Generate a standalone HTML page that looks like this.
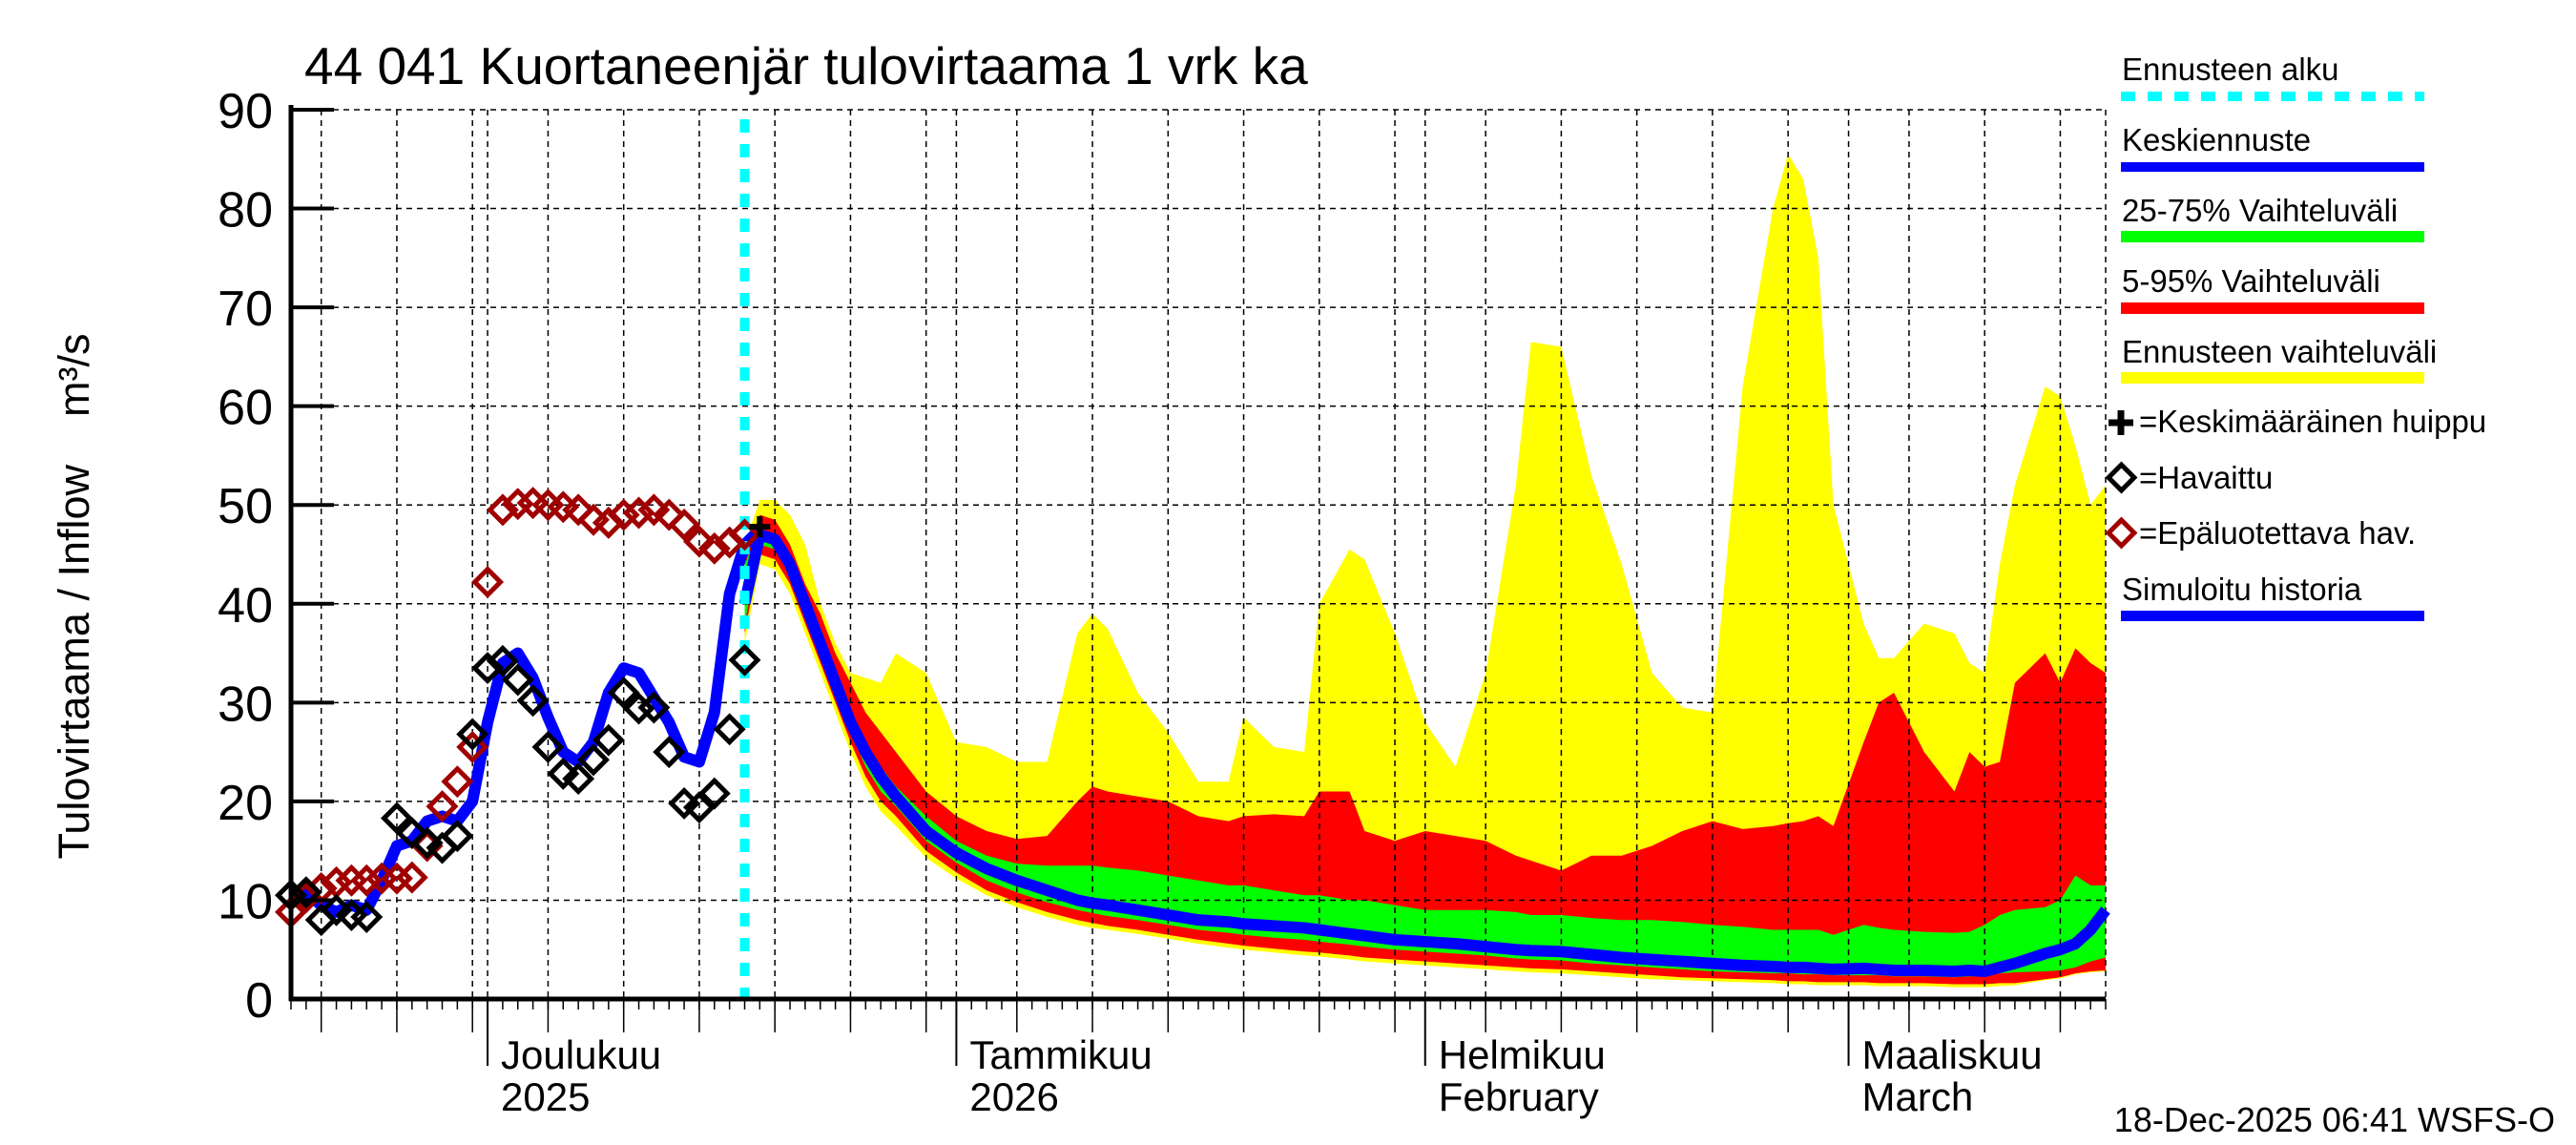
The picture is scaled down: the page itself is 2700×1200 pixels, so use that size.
<!DOCTYPE html>
<html><head><meta charset="utf-8"><style>
html,body{margin:0;padding:0;background:#fff;}
svg{display:block;font-family:"Liberation Sans",sans-serif;}
</style></head><body>
<svg id="chart" width="2700" height="1200" viewBox="0 0 2700 1200" xmlns="http://www.w3.org/2000/svg">
<rect width="2700" height="1200" fill="#fff"/>
<g id="bands"></g>
<g id="grid"></g>
<g id="series"></g>
<g id="axes"></g>
<text x="319" y="88" font-size="55">44 041 Kuortaneenjär tulovirtaama 1 vrk ka</text>
<text transform="translate(93,625) rotate(-90)" text-anchor="middle" font-size="45">Tulovirtaama / Inflow &#160;&#160;&#160;m³/s</text>
<text x="2678" y="1186" text-anchor="end" font-size="36">18-Dec-2025 06:41 WSFS-O</text>
<g id="legend" font-size="33">
<text x="2224" y="84">Ennusteen alku</text>
<line x1="2223" y1="101" x2="2541" y2="101" stroke="#00ffff" stroke-width="10" stroke-dasharray="15,13"/>
<text x="2224" y="158">Keskiennuste</text>
<rect x="2223" y="170" width="318" height="10" fill="#0000ff"/>
<text x="2224" y="232">25-75% Vaihteluväli</text>
<rect x="2223" y="242" width="318" height="12" fill="#00ff00"/>
<text x="2224" y="306">5-95% Vaihteluväli</text>
<rect x="2223" y="317" width="318" height="12" fill="#ff0000"/>
<text x="2224" y="380">Ennusteen vaihteluväli</text>
<rect x="2223" y="390" width="318" height="12" fill="#ffff00"/>
<path d="M2210,443 h26 M2223,430 v26" stroke="#000" stroke-width="7"/>
<text x="2242" y="453">=Keskimääräinen huippu</text>
<rect x="2214" y="491" width="19" height="19" fill="none" stroke="#000" stroke-width="5" transform="rotate(45 2223.5 500.5)"/>
<text x="2242" y="512">=Havaittu</text>
<rect x="2214" y="549" width="19" height="19" fill="none" stroke="#a00000" stroke-width="5" transform="rotate(45 2223.5 558.5)"/>
<text x="2242" y="570">=Epäluotettava hav.</text>
<text x="2224" y="629">Simuloitu historia</text>
<rect x="2223" y="640" width="318" height="11" fill="#0000ff"/>
</g>
</svg>
<script>
const yTicks = [0,10,20,30,40,50,60,70,80,90];
const monthLabels = [["Joulukuu","2025"],["Tammikuu","2026"],["Helmikuu","February"],["Maaliskuu","March"]];
const monthDays = [13,44,75,103];
const forecastStartDay = 30;
const peakDay = 31;
const peakValue = 47.8;
const fDays = [30,31,32,33,34,35,36,37,38,39,40,42,44,46,48,50,52,53,54,56,58,60,62,63,65,67,68,70,71,73,75,77,79,81,82,84,86,88,90,92,94,96,98,99,100,101,102,104,105,106,108,110,111,112,113,114,116,117,118,119,120];
const yMax = [46,50.5,50.5,49,46,40,36,33,32.5,32,35,33,26,25.5,24,24,37,39,37.5,31,27,22,22,28.5,25.5,25,40,45.5,44.5,37,28,23.5,33,52,66.5,66,53,44,33,29.5,29,62,80,85.5,83,75,50,38,34.5,34.5,38,37,34,33,44,52,62,61,56,50,52];
const p95 = [45,49,48.5,46,42,39,35,32,29,27,25,21,18.5,17,16.2,16.5,20,21.5,21,20.5,20,18.5,18,18.5,18.7,18.5,21,21,17,16,17,16.5,16,14.5,14,13,14.5,14.5,15.5,17,18,17.2,17.5,17.8,18,18.5,17.5,26,30,31,25,21,25,23.5,24,32,35,32,35.5,34,33];
const p75 = [44,47.5,47,45,41,37,33,29,26,23.5,21.5,18.5,16,14.5,13.7,13.5,13.5,13.5,13.3,13,12.5,12,11.5,11.5,11,10.5,10.5,10,10,9.5,9,9,9,8.8,8.5,8.5,8.2,8,8,7.8,7.5,7.3,7,7,7,7,6.5,7.5,7.2,7,6.8,6.7,6.8,7.5,8.5,9,9.3,10,12.5,11.5,11.5];
const median = [40,47,46.5,44,40,36,32,28,25,22.5,20.5,17,14.8,13.2,12,11,10,9.7,9.5,9,8.5,8,7.8,7.6,7.4,7.2,7,6.6,6.4,6,5.8,5.6,5.3,5,4.9,4.8,4.5,4.2,4,3.8,3.6,3.4,3.3,3.2,3.2,3.1,3.0,3.1,3.0,2.9,2.9,2.8,2.9,2.8,3.2,3.6,4.6,5.0,5.6,7,9];
const p25 = [38,46,45.5,43,39,35,31,27,23.5,21,19.5,16,13.8,12,10.8,9.8,9,8.7,8.4,8,7.5,7,6.7,6.5,6.2,6,5.8,5.5,5.3,5,4.8,4.6,4.4,4.1,4,3.9,3.6,3.4,3.2,3,2.8,2.7,2.6,2.6,2.5,2.5,2.4,2.4,2.4,2.3,2.3,2.2,2.3,2.3,2.6,2.7,2.8,2.9,3.2,3.8,4.2];
const p5 = [37,45,44.5,42,38,34,30,26,22.5,20,18.5,15,12.8,11,9.8,8.8,8,7.7,7.4,7,6.5,6,5.6,5.4,5.1,4.8,4.7,4.4,4.2,4,3.8,3.6,3.4,3.2,3.1,3,2.8,2.6,2.4,2.2,2.1,2,1.9,1.8,1.8,1.7,1.7,1.7,1.6,1.6,1.6,1.5,1.5,1.5,1.6,1.6,2,2.2,2.6,2.8,2.9];
const yMin = [36,44,43.5,41,37,33,29,25,21.5,19,17.5,14.3,12.2,10.5,9.3,8.3,7.5,7.2,7,6.6,6.1,5.6,5.2,5,4.7,4.4,4.3,4,3.8,3.6,3.4,3.2,3,2.8,2.7,2.6,2.4,2.2,2,1.9,1.8,1.7,1.6,1.5,1.5,1.4,1.4,1.4,1.3,1.3,1.3,1.2,1.2,1.2,1.3,1.4,1.9,2.1,2.5,2.7,2.8];
const simDays = [0,1,2,3,4,5,6,7,8,9,10,11,12,13,14,15,16,17,18,19,20,21,22,23,24,25,26,27,28,29,30,31];
const simVals = [10.5,10.8,9.5,8.8,9.5,9,12,15.5,16,18,18.5,18,20,28,34,35,32.5,28.5,25,24,26,31,33.5,33,30.5,28,24.5,24,29,41,46,47.5];
const obsDays = [0,1,2,3,4,5,7,8,9,10,11,12,13,14,15,16,17,18,19,20,21,22,23,24,25,26,27,28,29,30];
const obsVals = [10.5,10.8,8,9,8.5,8.3,18.3,16.8,15.8,15.3,16.5,26.8,33.5,34.2,32.3,30.2,25.5,22.8,22.3,24.2,26.2,31,29.4,29.5,25,19.8,19.4,20.8,27.3,34.3];
const unrelDays = [0,1,2,3,4,5,6,7,8,9,10,11,12,13,14,15,16,17,18,19,20,21,22,23,24,25,26,27,28,29,30];
const unrelVals = [8.8,10.3,11.2,11.8,12,12,12.2,12.2,12.3,15.5,19.5,22,25.5,42.2,49.5,50.1,50.2,50,49.8,49.5,48.5,48.2,49,49.2,49.5,49,48,46.3,45.6,46.2,47];

const X0=305, X1=2207, Y0=1047, Y90=115, DAYS=120;
function xs(d){return X0+(X1-X0)*d/DAYS;}
function ys(v){return Y0-(Y0-Y90)*v/90;}
const NS="http://www.w3.org/2000/svg";
function mk(tag,attrs,parent){const e=document.createElementNS(NS,tag);for(const k in attrs)e.setAttribute(k,attrs[k]);parent.appendChild(e);return e;}
const bands=document.getElementById('bands'),grid=document.getElementById('grid'),series=document.getElementById('series'),axes=document.getElementById('axes');

function band(lo,hi,color,name){
  let d='M'+fDays.map((t,i)=>xs(t).toFixed(1)+','+ys(hi[i]).toFixed(1)).join(' L');
  for(let i=fDays.length-1;i>=0;i--)d+=' L'+xs(fDays[i]).toFixed(1)+','+ys(lo[i]).toFixed(1);
  const p=mk('path',{d:d+'Z',fill:color},bands);
  
  
}
band(yMin,yMax,'#ffff00','band-full-range');
band(p5,p95,'#ff0000','band-p5-p95');
band(p25,p75,'#00ff00','band-p25-p75');

for(const v of yTicks){
  if(v===0)continue;
  const l=mk('line',{x1:X0,x2:X1,y1:ys(v),y2:ys(v),stroke:'#000','stroke-width':1.5,'stroke-dasharray':'6,5'},grid);
  
  
}
const gridDays=[];
for(let d=2;d<=13;d+=5)gridDays.push(d);
for(const m of [[13,31],[44,31],[75,28],[103,31]]){for(let k=4;k<m[1];k+=5){if(m[0]+k<=DAYS)gridDays.push(m[0]+k);}}
for(const d of gridDays.concat(monthDays).concat([DAYS])){
  const l=mk('line',{x1:xs(d),x2:xs(d),y1:Y90,y2:Y0,stroke:'#000','stroke-width':1.5,'stroke-dasharray':'6,5'},grid);
  
  
}

const sim=mk('polyline',{points:simDays.map((d,i)=>xs(d)+','+ys(simVals[i])).join(' '),fill:'none',stroke:'#0000ff','stroke-width':12,'stroke-linejoin':'round'},series);


const med=mk('polyline',{points:fDays.map((d,i)=>xs(d)+','+ys(median[i])).join(' '),fill:'none',stroke:'#0000ff','stroke-width':12,'stroke-linejoin':'round'},series);


const fs=mk('line',{x1:xs(forecastStartDay),x2:xs(forecastStartDay),y1:Y90+10,y2:Y0,stroke:'#00ffff','stroke-width':10,'stroke-dasharray':'14,12'},series);


function diamond(d,v,color,name){
  const cx=xs(d),cy=ys(v);
  const r=mk('rect',{x:cx-9.5,y:cy-9.5,width:19,height:19,fill:'none',stroke:color,'stroke-width':5,transform:'rotate(45 '+cx+' '+cy+')'},series);
  
  
}
unrelDays.forEach((d,i)=>diamond(d,unrelVals[i],'#a00000','unreliable-observation'));
obsDays.forEach((d,i)=>diamond(d,obsVals[i],'#000','observed-value'));
const pk=mk('path',{d:'M'+(xs(peakDay)-11)+','+ys(peakValue)+' h22 M'+xs(peakDay)+','+(ys(peakValue)-11)+' v22',stroke:'#000','stroke-width':6},series);



const ya=mk('line',{x1:X0,x2:X0,y1:Y90-5,y2:Y0+2,stroke:'#000','stroke-width':5},axes);


const xa=mk('line',{x1:X0-2,x2:X1,y1:Y0,y2:Y0,stroke:'#000','stroke-width':5},axes);


for(const v of yTicks){
  const t=mk('line',{x1:X0,x2:X0+45,y1:ys(v),y2:ys(v),stroke:'#000','stroke-width':4},axes);
  
  
  const tx=mk('text',{x:286,y:ys(v)+19,'text-anchor':'end','font-size':52},axes);
  tx.textContent=v;
  
  
}
for(let d=0;d<=DAYS;d++){
  const t=mk('line',{x1:xs(d),x2:xs(d),y1:Y0,y2:Y0+11,stroke:'#000','stroke-width':1.5},axes);
  
  
}
for(const d of gridDays){
  const t=mk('line',{x1:xs(d),x2:xs(d),y1:Y0,y2:Y0+35,stroke:'#000','stroke-width':1.5},axes);
  
  
}
monthDays.forEach((d,i)=>{
  const t=mk('line',{x1:xs(d),x2:xs(d),y1:Y0,y2:Y0+70,stroke:'#000','stroke-width':2},axes);
  
  
  const a=mk('text',{x:xs(d)+14,y:1120,'font-size':42},axes);
  a.textContent=monthLabels[i][0];
  
  
  const b=mk('text',{x:xs(d)+14,y:1164,'font-size':42},axes);
  b.textContent=monthLabels[i][1];
  
  
});
</script>
</body></html>
